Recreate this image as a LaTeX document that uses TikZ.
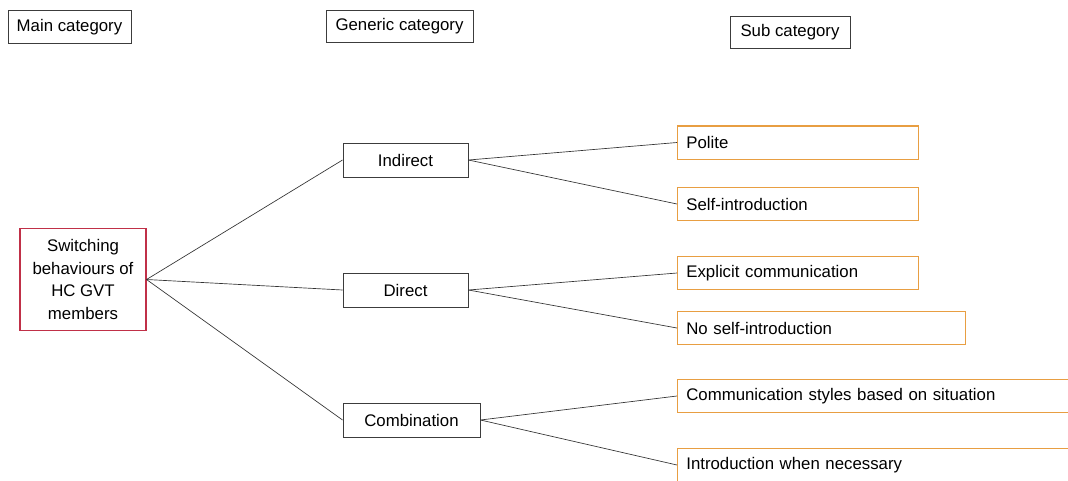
\documentclass[tikz,border=0pt]{standalone}
\usepackage{fontspec}
\setmainfont{Liberation Sans}
\definecolor{mainred}{RGB}{192,48,72}
\definecolor{suborange}{RGB}{232,158,66}
\definecolor{boxgray}{RGB}{60,60,60}
\begin{document}
\begin{tikzpicture}[x=0.75pt,y=-0.75pt,
    font=\fontsize{12.6}{17}\selectfont,
    headbox/.style={draw=boxgray,line width=0.7pt,minimum height=24.5pt,inner sep=0pt},
    genbox/.style={draw=boxgray,line width=0.7pt,minimum height=25.5pt,inner sep=0pt},
    mainbox/.style={draw=mainred,line width=0.8pt,align=center,minimum width=94.5pt,minimum height=77pt,inner sep=0pt},
    subbox/.style={draw=suborange,line width=1pt,anchor=west,align=left,inner xsep=6.5pt,
        inner ysep=0pt,minimum height=25pt,text width=#1},
    link/.style={draw=black!80,line width=0.5pt}]
    % Frame of the page
    \useasboundingbox (0,0) rectangle (1068,480);
    \clip (0,0) rectangle (1068,480);
    \fill[white] (0,0) rectangle (1068,480);

    % Column headings
    \node[headbox,minimum width=92.25pt] (mainhead) at (69.5,27) {Main category};
    \node[headbox,minimum width=110.25pt] (genhead) at (399.5,26.5) {Generic category};
    \node[headbox,minimum width=90pt] (subhead) at (790,32.5) {Sub category};

    % Main category
    \node[mainbox] (main) at (83,279.5) {Switching\\behaviours of\\HC GVT\\members};

    % Generic categories
    \node[genbox,minimum width=93.75pt] (indirect) at (405.5,160) {Indirect};
    \node[genbox,minimum width=93.75pt] (direct) at (405.5,290) {Direct};
    \node[genbox,minimum width=102.75pt] (combination) at (411.5,420) {Combination};

    % Sub categories
    \node[subbox=167.75pt] (polite) at (677,142.5) {Polite};
    \node[subbox=167.75pt] (selfintro) at (677,204) {Self-introduction};
    \node[subbox=167.75pt] (explicit) at (677,273) {Explicit communication};
    \node[subbox=203pt] (noself) at (677,328) {No self-introduction};
    \node[subbox=287pt] (situation) at (677,396) {Communication styles based on situation};
    \node[subbox=287pt] (whennec) at (677,465) {Introduction when necessary};

    % Links
    \draw[link] (main.east) -- (indirect.west);
    \draw[link] (main.east) -- (direct.west);
    \draw[link] (main.east) -- (combination.west);
    \draw[link] (indirect.east) -- (polite.west);
    \draw[link] (indirect.east) -- (selfintro.west);
    \draw[link] (direct.east) -- (explicit.west);
    \draw[link] (direct.east) -- (noself.west);
    \draw[link] (combination.east) -- (situation.west);
    \draw[link] (combination.east) -- (whennec.west);
\end{tikzpicture}
\end{document}
